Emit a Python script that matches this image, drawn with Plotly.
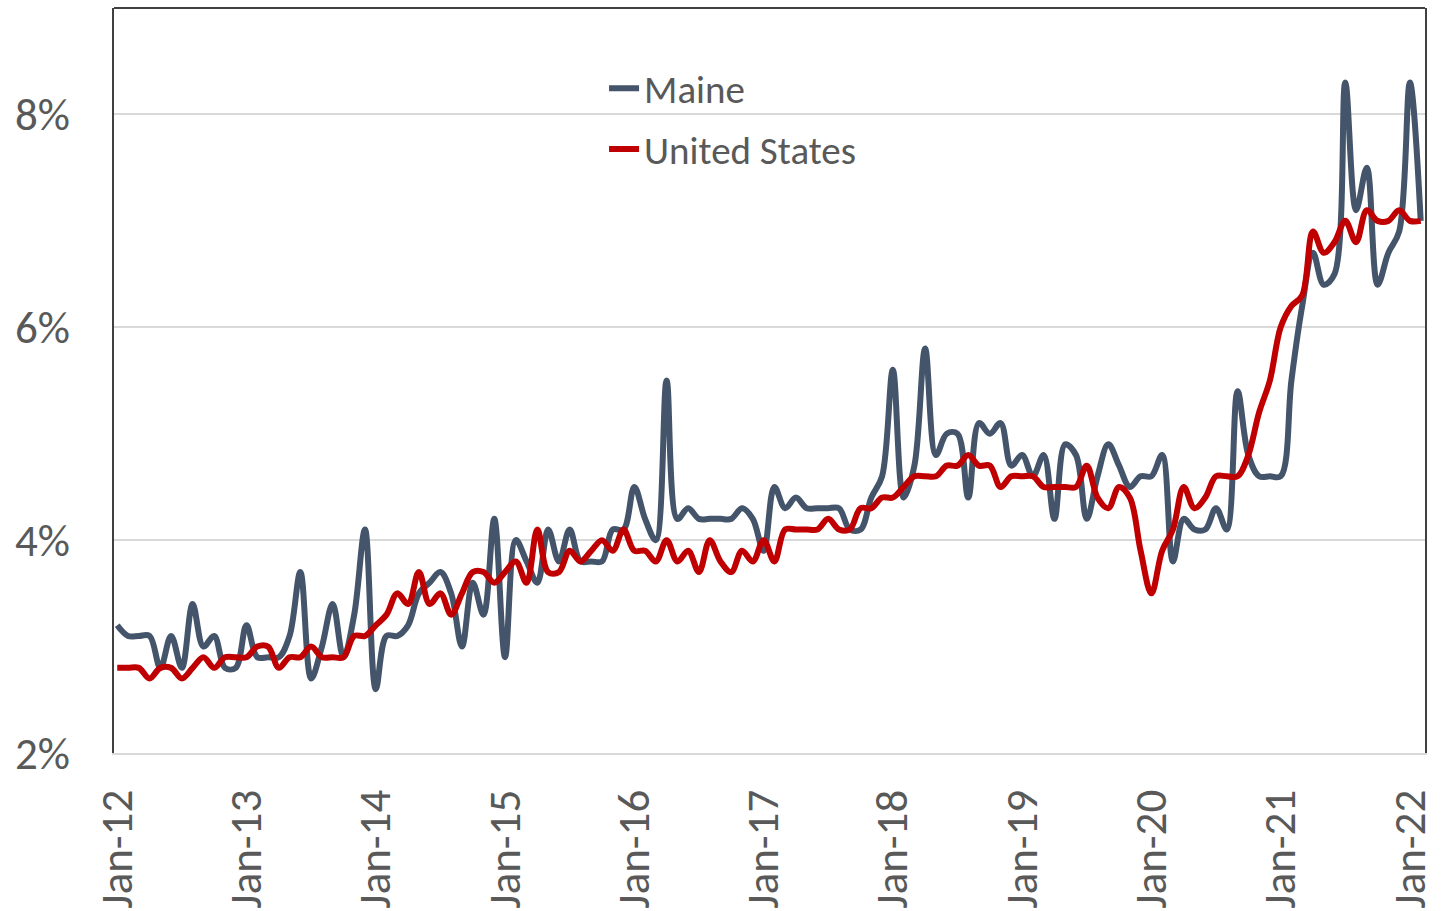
import pandas as pd
import plotly.graph_objects as go

months = pd.date_range("2012-01-01", periods=122, freq="MS").strftime("%b-%y").tolist()

maine = [3.2, 3.1, 3.1, 3.1, 2.8, 3.1, 2.8, 3.4, 3.0, 3.1, 2.8, 2.8,
         3.2, 2.9, 2.9, 2.9, 3.1, 3.7, 2.7, 3.0, 3.4, 2.9, 3.3, 4.1,
         2.6, 3.1, 3.1, 3.2, 3.5, 3.6, 3.7, 3.5, 3.0, 3.6, 3.3, 4.2,
         2.9, 4.0, 3.8, 3.6, 4.1, 3.8, 4.1, 3.8, 3.8, 3.8, 4.1, 4.1,
         4.5, 4.2, 4.0, 5.5, 4.2, 4.3, 4.2, 4.2, 4.2, 4.2, 4.3, 4.2,
         3.9, 4.5, 4.3, 4.4, 4.3, 4.3, 4.3, 4.3, 4.1, 4.1, 4.4, 4.6,
         5.6, 4.4, 4.7, 5.8, 4.8, 5.0, 5.0, 4.4, 5.1, 5.0, 5.1, 4.7,
         4.8, 4.6, 4.8, 4.2, 4.9, 4.8, 4.2, 4.6, 4.9, 4.7, 4.5, 4.6,
         4.6, 4.8, 3.8, 4.2, 4.1, 4.1, 4.3, 4.1, 5.4, 4.8, 4.6, 4.6,
         4.6, 5.5, 6.2, 6.7, 6.4, 6.5, 8.3, 7.1, 7.5, 6.4, 6.7, 6.9,
         8.3, 7.0]

united_states = [2.8, 2.8, 2.8, 2.7, 2.8, 2.8, 2.7, 2.8, 2.9, 2.8, 2.9, 2.9,
                 2.9, 3.0, 3.0, 2.8, 2.9, 2.9, 3.0, 2.9, 2.9, 2.9, 3.1, 3.1,
                 3.2, 3.3, 3.5, 3.4, 3.7, 3.4, 3.5, 3.3, 3.5, 3.7, 3.7, 3.6,
                 3.7, 3.8, 3.6, 4.1, 3.7, 3.7, 3.9, 3.8, 3.9, 4.0, 3.9, 4.1,
                 3.9, 3.9, 3.8, 4.0, 3.8, 3.9, 3.7, 4.0, 3.8, 3.7, 3.9, 3.8,
                 4.0, 3.8, 4.1, 4.1, 4.1, 4.1, 4.2, 4.1, 4.1, 4.3, 4.3, 4.4,
                 4.4, 4.5, 4.6, 4.6, 4.6, 4.7, 4.7, 4.8, 4.7, 4.7, 4.5, 4.6,
                 4.6, 4.6, 4.5, 4.5, 4.5, 4.5, 4.7, 4.4, 4.3, 4.5, 4.4, 3.9,
                 3.5, 3.9, 4.1, 4.5, 4.3, 4.4, 4.6, 4.6, 4.6, 4.8, 5.2, 5.5,
                 6.0, 6.2, 6.3, 6.9, 6.7, 6.8, 7.0, 6.8, 7.1, 7.0, 7.0, 7.1,
                 7.0, 7.0]

x_tick_labels = ["Jan-12", "Jan-13", "Jan-14", "Jan-15", "Jan-16", "Jan-17",
                 "Jan-18", "Jan-19", "Jan-20", "Jan-21", "Jan-22"]
y_tick_values = [2, 4, 6, 8]
y_tick_labels = ["2%", "4%", "6%", "8%"]

FONT = "Carlito, Lato, sans-serif"
TXT = "#595959"
BORDER = "#404040"

fig = go.Figure()
fig.add_trace(go.Scatter(x=months, y=maine, name="Maine", mode="lines",
                         legendgroup="a",
                         line=dict(color="#44546A", width=6, shape="spline", smoothing=1)))
fig.add_trace(go.Scatter(x=months, y=united_states, name="United States", mode="lines",
                         legendgroup="b",
                         line=dict(color="#C00000", width=6, shape="spline", smoothing=1)))

fig.update_layout(
    width=1445, height=911,
    margin=dict(l=114, r=20, t=8, b=158, autoexpand=False),
    paper_bgcolor="white", plot_bgcolor="white",
    font=dict(family=FONT, color=TXT),
    showlegend=True,
    legend=dict(x=0.3738, y=0.935, xanchor="left", yanchor="top",
                bgcolor="rgba(0,0,0,0)", font=dict(size=39, color=TXT, family=FONT),
                tracegroupgap=7),
    xaxis=dict(type="category", range=[-0.3, 121.4], automargin=False,
               tickmode="array", tickvals=x_tick_labels, ticktext=x_tick_labels,
               tickangle=-90, tickfont=dict(size=45, color=TXT, family=FONT),
               showgrid=False, showline=True, linecolor="#D9D9D9", linewidth=1.5,
               ticks="", ticklabelstandoff=17, zeroline=False),
    yaxis=dict(range=[2, 9], tickmode="array", tickvals=y_tick_values, ticktext=y_tick_labels,
               automargin=False,
               tickfont=dict(size=45, color=TXT, family=FONT),
               showgrid=True, gridcolor="#D9D9D9", gridwidth=1.5,
               showline=True, linecolor=BORDER, linewidth=2, mirror=True,
               ticks="", ticklabelstandoff=33, zeroline=False),
    shapes=[dict(type="line", xref="paper", yref="paper", x0=0, x1=1, y0=1, y1=1,
                 line=dict(color=BORDER, width=2))],
)

fig.write_html("out.html", config={"displayModeBar": False},
               post_script="document.body.style.margin='0';")
